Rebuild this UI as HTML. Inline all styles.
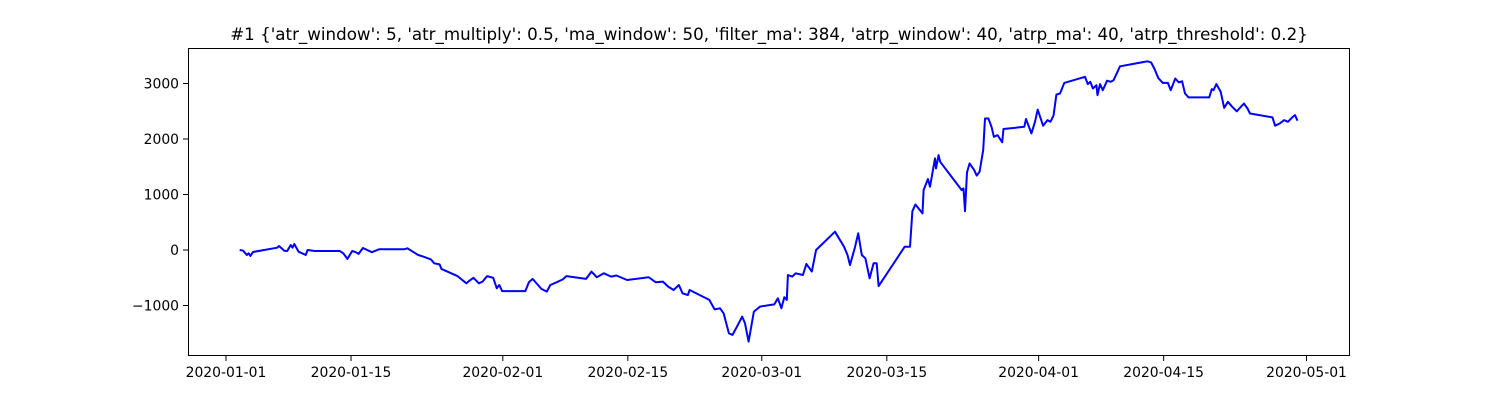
<!DOCTYPE html>
<html><head><meta charset="utf-8"><style>
html,body{margin:0;padding:0;background:#fff;}
svg text{font-family:"DejaVu Sans","Liberation Sans",sans-serif;fill:#000;}
</style></head><body>
<svg id="chart" width="1500" height="400" xmlns="http://www.w3.org/2000/svg">
<rect x="0" y="0" width="1500" height="400" fill="#fff"/>
<text x="769" y="40" font-size="16.7" text-anchor="middle">#1 {'atr_window': 5, 'atr_multiply': 0.5, 'ma_window': 50, 'filter_ma': 384, 'atrp_window': 40, 'atrp_ma': 40, 'atrp_threshold': 0.2}</text>
<g id="ticks"></g>
<path id="line" fill="none" stroke="#0000ff" stroke-width="2" stroke-linejoin="round"/>
<rect x="188.5" y="48.5" width="1161" height="307" fill="none" stroke="#000" stroke-width="1"/>
</svg>
<script>
// day offsets from 2020-01-01
const days = [1.53,1.93,2.33,2.54,2.73,3.02,5.73,5.93,6.53,6.85,7.25,7.45,7.65,8.13,8.93,9.14,9.93,12.73,13.13,13.60,14.13,14.54,14.85,15.33,16.34,17.13,19.94,20.32,20.92,21.52,22.12,22.94,23.32,23.92,24.12,25.92,26.92,27.20,27.72,28.32,28.72,29.24,29.92,30.32,30.61,30.92,33.52,33.92,34.33,35.32,35.92,36.32,36.92,37.72,38.12,40.32,40.92,41.52,42.32,43.12,43.72,44.92,47.32,48.12,48.92,49.52,50.12,50.72,51.12,51.72,51.92,54.12,54.72,55.32,55.72,56.32,56.72,57.32,57.80,58.12,58.52,59.12,
59.80,61.40,61.80,62.20,62.52,62.80,62.92,63.40,63.80,64.60,65.00,65.60,66.08,68.20,69.20,69.60,69.88,70.40,70.80,71.20,71.60,72.07,72.52,72.87,73.08,76.00,76.60,76.87,77.20,78.00,78.12,78.60,78.84,79.40,79.51,79.80,79.98,82.39,82.59,82.75,82.98,83.27,83.79,84.07,84.39,84.79,84.99,85.38,85.72,85.99,86.39,86.92,87.07,89.39,89.59,90.19,90.59,90.90,91.50,91.99,92.32,92.67,92.99,93.39,93.87,96.19,96.51,96.79,97.08,97.47,97.59,97.87,98.19,98.67,99.07,99.39,100.11,103.19,103.59,103.99,104.39,104.91,105.48,105.79,106.31,106.68,107.07,107.39,107.79,110.10,110.39,110.58,110.91,111.39,111.78,112.19,112.68,113.19,113.99,114.39,114.67,117.19,117.48,117.99,118.50,118.91,119.40,119.71,119.99];
const values = [0,-12,-90,-60,-108,-36,42,72,-12,-18,90,42,108,-30,-90,0,-18,-18,-60,-160,-18,-40,-70,36,-40,12,12,30,-30,-90,-120,-170,-240,-260,-340,-470,-600,-560,-500,-600,-570,-470,-500,-690,-630,-740,-740,-580,-520,-700,-750,-630,-590,-530,-470,-520,-390,-490,-420,-480,-460,-540,-490,-580,-570,-660,-720,-630,-780,-810,-720,-900,-1070,-1050,-1140,-1500,-1530,-1350,-1200,-1320,-1650,-1110,
-1020,-980,-870,-1050,-850,-900,-450,-480,-420,-450,-250,-390,0,330,60,-90,-270,30,300,-90,-150,-510,-240,-240,-650,60,60,700,820,660,1080,1280,1140,1650,1470,1710,1590,1080,1110,700,1400,1560,1440,1340,1410,1800,2370,2370,2220,2040,2070,1940,2180,2220,2360,2100,2310,2530,2240,2340,2310,2420,2800,2820,3010,3120,2990,3030,2910,2970,2790,2990,2880,3050,3030,3060,3310,3400,3380,3260,3100,3010,3010,2880,3090,3020,3040,2820,2750,2750,2900,2880,2990,2850,2560,2670,2580,2500,2640,2550,2460,2390,2240,2280,2340,2310,2390,2430,2330];
const xTickDays = [0,14,31,45,60,74,91,105,121];
const xTickLabels = ["2020-01-01","2020-01-15","2020-02-01","2020-02-15","2020-03-01","2020-03-15","2020-04-01","2020-04-15","2020-05-01"];
const yTickValues = [-1000,0,1000,2000,3000];
const yTickLabels = ["\u22121000","0","1000","2000","3000"];

const X = d => 226 + d * 8.93;
const Y = v => 250 - v * 0.0555;
const NS = "http://www.w3.org/2000/svg";
const g = document.getElementById('ticks');
xTickDays.forEach((d,i)=>{
  const l = document.createElementNS(NS,'line');
  l.setAttribute('x1',X(d));l.setAttribute('x2',X(d));l.setAttribute('y1',356);l.setAttribute('y2',361);l.setAttribute('stroke','#000');
  
  
  g.appendChild(l);
  const t = document.createElementNS(NS,'text');
  t.setAttribute('x',X(d));t.setAttribute('y',377);t.setAttribute('font-size','13.9');t.setAttribute('text-anchor','middle');
  t.textContent = xTickLabels[i];
  
  
  g.appendChild(t);
});
yTickValues.forEach((v,i)=>{
  const l = document.createElementNS(NS,'line');
  l.setAttribute('x1',183);l.setAttribute('x2',188);l.setAttribute('y1',Y(v));l.setAttribute('y2',Y(v));l.setAttribute('stroke','#000');
  
  
  g.appendChild(l);
  const t = document.createElementNS(NS,'text');
  t.setAttribute('x',179);t.setAttribute('y',Y(v)+5);t.setAttribute('font-size','13.9');t.setAttribute('text-anchor','end');
  t.textContent = yTickLabels[i];
  
  
  g.appendChild(t);
});
document.getElementById('line').setAttribute('d', days.map((d,i)=>(i?'L':'M')+X(d).toFixed(1)+' '+Y(values[i]).toFixed(1)).join(' '));
</script>
</body></html>
